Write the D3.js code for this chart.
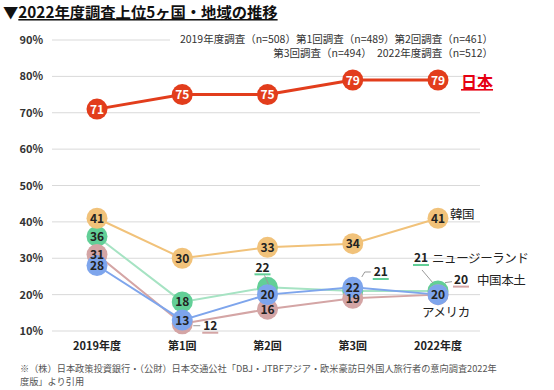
<!DOCTYPE html>
<html>
<head>
<meta charset="utf-8">
<script src="https://cdn.jsdelivr.net/npm/d3@7"></script>
<style>
  body { margin: 0; background: #fff; }
  svg { font-family: "Noto Sans CJK JP", "Noto Sans", sans-serif; }
</style>
</head>
<body>
<svg width="554" height="390"></svg>
<script>
const categories = ["2019年度", "第1回", "第2回", "第3回", "2022年度"];
const yTicks = [10, 20, 30, 40, 50, 60, 70, 80, 90];

const japan = [71, 75, 75, 79, 79];
const korea = [41, 30, 33, 34, 41];
const newZealand = [36, 18, 22, 21, 21];
const china = [31, 12, 16, 19, 20];
const usa = [28, 13, 20, 22, 20];

// draw order: bottom first
const series = [
  { name: "ニュージーランド", values: newZealand, dot: "#62cf97", line: "#a6e3c3", text: "#222" },
  { name: "中国本土", values: china, dot: "#d4a5a5", line: "#d4a5a5", text: "#222" },
  { name: "韓国", values: korea, dot: "#f1c27a", line: "#f1c27a", text: "#222" },
  { name: "アメリカ", values: usa, dot: "#7ea5ec", line: "#7ea5ec", text: "#222" },
  { name: "日本", values: japan, dot: "#e23d1c", line: "#e23d1c", text: "#fff" }
];

// points whose value label sits outside the dot:
// [series, index, label dx, label dy, leader (relative to dot centre)]
const callouts = [
  ["中国本土", 1, 28, 2, [[11, 2], [18, 2]]],
  ["ニュージーランド", 2, -5, -20, [[-3, -12], [1, -3]]],
  ["ニュージーランド", 3, 28, -19, [[9, -14], [12, -19], [18, -19]]],
  ["ニュージーランド", 4, -17, -33, [[-16, -21], [-5, -8]]],
  ["中国本土", 4, 23, -15, [[7, -12], [14, -13]]]
];

const svg = d3.select("svg");
const x = d3.scalePoint().domain(categories).range([97, 438]);
const y = d3.scaleLinear().domain([10, 90]).range([331, 40]);

// title
const title = svg.append("text").attr("x", 3).attr("y", 18)
  .attr("font-size", 15.3).attr("font-weight", "bold").attr("fill", "#111");
title.append("tspan").text("▼");
title.append("tspan").attr("text-decoration", "underline").text("2022年度調査上位5ヶ国・地域の推移");

// grid
svg.append("g").selectAll("line").data(yTicks).join("line")
  .attr("x1", 52).attr("x2", 480)
  .attr("y1", d => y(d)).attr("y2", d => y(d))
  .attr("stroke", "#d9d9d9").attr("stroke-width", 1);

svg.append("g").selectAll("text").data(yTicks).join("text")
  .attr("x", 43).attr("y", d => y(d) + 4)
  .attr("text-anchor", "end").attr("font-size", 11).attr("font-weight", "bold")
  .attr("fill", "#333").text(d => d + "%");

// legend note covers the right part of the 90% gridline
svg.append("rect").attr("x", 170).attr("y", 32).attr("width", 325).attr("height", 30).attr("fill", "#fff");
svg.append("text").attr("x", 493).attr("y", 43).attr("text-anchor", "end")
  .attr("font-size", 10.5).attr("fill", "#333")
  .text("2019年度調査（n=508）第1回調査（n=489）第2回調査（n=461）");
svg.append("text").attr("x", 493).attr("y", 57).attr("text-anchor", "end")
  .attr("font-size", 10.5).attr("fill", "#333")
  .text("第3回調査（n=494）　2022年度調査（n=512）");

// x labels
svg.append("g").selectAll("text").data(categories).join("text")
  .attr("x", d => x(d)).attr("y", 350).attr("text-anchor", "middle")
  .attr("font-size", 11).attr("font-weight", "bold").attr("fill", "#222").text(d => d);

const line = d3.line().x((d, i) => x(categories[i])).y(d => y(d));

series.forEach(s => {
  svg.append("path").datum(s.values).attr("d", line)
    .attr("fill", "none").attr("stroke", s.line)
    .attr("stroke-width", s.name === "日本" ? 3 : 2);
});

series.forEach(s => {
  svg.append("g").selectAll("circle").data(s.values).join("circle")
    .attr("cx", (d, i) => x(categories[i])).attr("cy", d => y(d))
    .attr("r", 10.5).attr("fill", s.dot);
});

const isCallout = (s, i) => callouts.some(c => c[0] === s.name && c[1] === i);

series.forEach(s => {
  svg.append("g").selectAll("text")
    .data(s.values.map((v, i) => ({ v, i })).filter(d => !isCallout(s, d.i)))
    .join("text")
    .attr("x", d => x(categories[d.i])).attr("y", d => y(d.v) + 4.5)
    .attr("text-anchor", "middle").attr("font-size", 12).attr("font-weight", "bold")
    .attr("fill", s.text).text(d => d.v);
});

// external value labels
callouts.forEach(([name, i, dx, dy, leader]) => {
  const s = series.find(t => t.name === name);
  const cx = x(categories[i]), cy = y(s.values[i]);
  const lx = cx + dx, ly = cy + dy;
  svg.append("path")
    .attr("d", d3.line()(leader.map(p => [cx + p[0], cy + p[1]])))
    .attr("fill", "none").attr("stroke", "#999").attr("stroke-width", 1);
  svg.append("text").attr("x", lx).attr("y", ly + 4.5)
    .attr("text-anchor", "middle").attr("font-size", 12).attr("font-weight", "bold")
    .attr("fill", "#222").text(s.values[i]);
  svg.append("line").attr("x1", lx - 8).attr("x2", lx + 8)
    .attr("y1", ly + 7).attr("y2", ly + 7)
    .attr("stroke", s.dot).attr("stroke-width", 2);
});

// series names: [series, index, dx, dy]
const names = [
  ["日本", 4, 23, 8],
  ["韓国", 4, 12, 1],
  ["ニュージーランド", 4, -6, -28],
  ["中国本土", 4, 39, -10],
  ["アメリカ", 4, -16, 22]
];
names.forEach(([name, i, dx, dy]) => {
  const s = series.find(t => t.name === name);
  const t = svg.append("text")
    .attr("x", x(categories[i]) + dx).attr("y", y(s.values[i]) + dy)
    .text(name);
  if (name === "日本") {
    t.attr("font-size", 16).attr("font-weight", "bold").attr("fill", "#e60012")
      .attr("text-decoration", "underline");
  } else {
    t.attr("font-size", 12.5).attr("fill", "#222").attr("letter-spacing", -0.4);
  }
});

// source note
svg.append("text").attr("x", 20).attr("y", 372).attr("font-size", 9.2).attr("fill", "#555")
  .text("※（株）日本政策投資銀行・（公財）日本交通公社「DBJ・JTBFアジア・欧米豪訪日外国人旅行者の意向調査2022年");
svg.append("text").attr("x", 20).attr("y", 385).attr("font-size", 9.2).attr("fill", "#555")
  .text("度版」より引用");
</script>
</body>
</html>
